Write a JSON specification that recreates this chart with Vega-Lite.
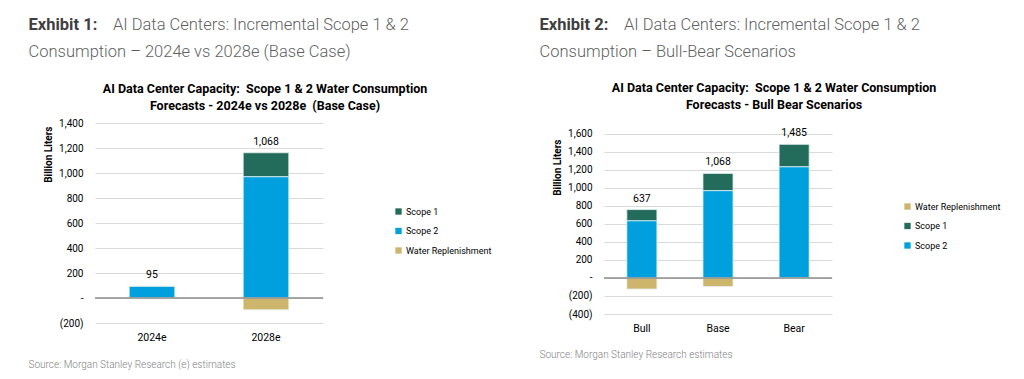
{
  "$schema": "https://vega.github.io/schema/vega-lite/v6.json",
  "background": "white",
  "padding": {"left": 28, "top": 17, "right": 0, "bottom": 0},
  "spacing": 47,
  "datasets": {
    "left": [
      {"cat": "2024e", "series": "Scope 1", "value": 2},
      {"cat": "2024e", "series": "Scope 2", "value": 93},
      {"cat": "2024e", "series": "Water Replenishment", "value": 0},
      {"cat": "2028e", "series": "Scope 1", "value": 192},
      {"cat": "2028e", "series": "Scope 2", "value": 970},
      {"cat": "2028e", "series": "Water Replenishment", "value": -94}
    ],
    "right": [
      {"cat": "Bull", "series": "Scope 1", "value": 125},
      {"cat": "Bull", "series": "Scope 2", "value": 635},
      {"cat": "Bull", "series": "Water Replenishment", "value": -123},
      {"cat": "Base", "series": "Scope 1", "value": 192},
      {"cat": "Base", "series": "Scope 2", "value": 970},
      {"cat": "Base", "series": "Water Replenishment", "value": -94},
      {"cat": "Bear", "series": "Scope 1", "value": 250},
      {"cat": "Bear", "series": "Scope 2", "value": 1235},
      {"cat": "Bear", "series": "Water Replenishment", "value": 0}
    ]
  },
  "resolve": {"scale": {"color": "independent", "y": "independent", "x": "independent"}, "legend": {"color": "independent"}},
  "hconcat": [
    {
      "title": {
        "text": "Exhibit 1:",
        "subtitle": ["\u200b\u00a0\u00a0\u00a0\u00a0\u00a0\u00a0\u00a0\u00a0\u00a0\u00a0\u00a0\u00a0\u00a0\u00a0\u00a0\u00a0\u00a0\u00a0\u00a0\u00a0\u00a0AI Data Centers: Incremental Scope 1 & 2", "Consumption – 2024e vs 2028e (Base Case)"],
        "anchor": "start", "frame": "bounds", "dx": 0, "offset": 22,
        "font": "Roboto", "fontSize": 16.5, "fontWeight": "bold", "color": "#3f3f3f",
        "subtitleFont": "Roboto", "subtitleFontSize": 16.5, "subtitleFontWeight": 300, "subtitleColor": "#5f5f5f",
        "subtitleLineHeight": 27, "subtitlePadding": -16.5
      },
      "vconcat": [
        {
          "title": {"text": "Source: Morgan Stanley Research (e) estimates", "orient": "bottom", "anchor": "start", "frame": "bounds", "dx": -15, "offset": 17, "font": "Roboto", "fontSize": 10, "fontWeight": 300, "color": "#7f7f7f"},
          "vconcat": [
            {
              "width": 228, "height": 200,
              "data": {"name": "left"},
              "title": {"text": ["AI Data Center Capacity:\u00a0 Scope 1 & 2 Water Consumption", "Forecasts - 2024e vs 2028e\u00a0 (Base Case)"], "anchor": "middle", "frame": "group", "dx": 56, "offset": 6, "font": "Roboto", "fontSize": 12.5, "fontWeight": "bold", "color": "#000000", "lineHeight": 17},
              "layer": [
                {
                  "mark": {"type": "bar", "stroke": "#e4f1ef", "strokeWidth": 0.8},
                  "encoding": {
                    "x": {"field": "cat", "type": "nominal", "sort": null, "title": null, "scale": {"paddingInner": 0.6, "paddingOuter": 0.3},
                      "axis": {"domain": false, "ticks": false, "labelAngle": 0, "labelPadding": 9, "labelFont": "Roboto", "labelFontSize": 10.5, "labelColor": "#000000"}},
                    "y": {"field": "value", "type": "quantitative", "stack": "zero", "scale": {"domain": [-200, 1400], "nice": false},
                      "axis": {"values": [-200, 0, 200, 400, 600, 800, 1000, 1200, 1400], "tickCount": 30, "labelOverlap": false, "labelExpr": "datum.value == 0 ? '-' : (datum.value < 0 ? '(' + format(-datum.value, ',') + ')' : format(datum.value, ','))", "title": "Billion Liters", "titleAnchor": "end", "titleY": 3, "titleFont": "Roboto", "titleFontSize": 10, "titleFontWeight": "bold", "titleColor": "#000000", "titlePadding": 5, "domain": false, "ticks": false, "grid": true, "gridColor": "#d9d9d9", "labelPadding": 12, "labelFont": "Roboto", "labelFontSize": 10, "labelColor": "#000000"}},
                    "color": {"field": "series", "type": "nominal", "scale": {"domain": ["Scope 1", "Scope 2", "Water Replenishment"], "range": ["#236B5A", "#00A0DE", "#CDB56B"]},
                      "legend": {"title": null, "orient": "none", "legendX": 299, "legendY": 84, "symbolType": "square", "symbolSize": 40, "symbolStrokeWidth": 0, "labelFont": "Roboto", "labelFontSize": 9, "labelColor": "#000000", "rowPadding": 9.5, "labelOffset": 3}},
                    "order": {"field": "series", "sort": "descending"}
                  }
                },
                {
                  "data": {"values": [{}]},
                  "mark": {"type": "rule", "color": "#8c8c8c", "strokeWidth": 1.5},
                  "encoding": {"y": {"datum": 0}}
                },
                {
                  "transform": [
                    {"calculate": "max(datum.value, 0)", "as": "pos"},
                    {"aggregate": [{"op": "sum", "field": "value", "as": "net"}, {"op": "sum", "field": "pos", "as": "top"}], "groupby": ["cat"]}
                  ],
                  "mark": {"type": "text", "baseline": "bottom", "dy": -6, "font": "Roboto", "fontSize": 10.5, "color": "#000000"},
                  "encoding": {
                    "x": {"field": "cat", "type": "nominal", "sort": null},
                    "y": {"field": "top", "type": "quantitative"},
                    "text": {"field": "net", "type": "quantitative", "format": ","}
                  }
                }
              ]
            }
          ]
        }
      ]
    },
    {
      "title": {
        "text": "Exhibit 2:",
        "subtitle": ["\u200b\u00a0\u00a0\u00a0\u00a0\u00a0\u00a0\u00a0\u00a0\u00a0\u00a0\u00a0\u00a0\u00a0\u00a0\u00a0\u00a0\u00a0\u00a0\u00a0\u00a0\u00a0AI Data Centers: Incremental Scope 1 & 2", "Consumption – Bull-Bear Scenarios"],
        "anchor": "start", "frame": "bounds", "dx": 0, "offset": 21,
        "font": "Roboto", "fontSize": 16.5, "fontWeight": "bold", "color": "#3f3f3f",
        "subtitleFont": "Roboto", "subtitleFontSize": 16.5, "subtitleFontWeight": 300, "subtitleColor": "#5f5f5f",
        "subtitleLineHeight": 27, "subtitlePadding": -16.5
      },
      "vconcat": [
        {
          "title": {"text": "Source: Morgan Stanley Research estimates", "orient": "bottom", "anchor": "start", "frame": "bounds", "dx": -13, "offset": 16, "font": "Roboto", "fontSize": 10, "fontWeight": 300, "color": "#7f7f7f"},
          "vconcat": [
            {
              "width": 228, "height": 191,
              "data": {"name": "right"},
              "title": {"text": ["AI Data Center Capacity:\u00a0 Scope 1 & 2 Water Consumption", "Forecasts - Bull Bear Scenarios"], "anchor": "middle", "frame": "group", "dx": 56, "offset": 12, "font": "Roboto", "fontSize": 12.5, "fontWeight": "bold", "color": "#000000", "lineHeight": 17},
              "layer": [
                {
                  "mark": {"type": "bar", "stroke": "#e4f1ef", "strokeWidth": 0.8},
                  "encoding": {
                    "x": {"field": "cat", "type": "nominal", "sort": null, "title": null, "scale": {"paddingInner": 0.605, "paddingOuter": 0.3},
                      "axis": {"domain": false, "ticks": false, "labelAngle": 0, "labelPadding": 9, "labelFont": "Roboto", "labelFontSize": 10.5, "labelColor": "#000000"}},
                    "y": {"field": "value", "type": "quantitative", "stack": "zero", "scale": {"domain": [-400, 1722], "nice": false},
                      "axis": {"values": [-400, -200, 0, 200, 400, 600, 800, 1000, 1200, 1400, 1600], "tickCount": 30, "labelOverlap": false, "labelExpr": "datum.value == 0 ? '-' : (datum.value < 0 ? '(' + format(-datum.value, ',') + ')' : format(datum.value, ','))", "title": "Billion Liters", "titleAnchor": "end", "titleY": 16, "titleFont": "Roboto", "titleFontSize": 10, "titleFontWeight": "bold", "titleColor": "#000000", "titlePadding": 5, "domain": false, "ticks": false, "grid": true, "gridColor": "#d9d9d9", "labelPadding": 12, "labelFont": "Roboto", "labelFontSize": 10, "labelColor": "#000000"}},
                    "color": {"field": "series", "type": "nominal", "scale": {"domain": ["Water Replenishment", "Scope 1", "Scope 2"], "range": ["#CDB56B", "#236B5A", "#00A0DE"]},
                      "legend": {"title": null, "orient": "none", "legendX": 299, "legendY": 79, "symbolType": "square", "symbolSize": 40, "symbolStrokeWidth": 0, "labelFont": "Roboto", "labelFontSize": 9, "labelColor": "#000000", "rowPadding": 9.5, "labelOffset": 3}},
                    "order": {"field": "series", "sort": "descending"}
                  }
                },
                {
                  "data": {"values": [{}]},
                  "mark": {"type": "rule", "color": "#8c8c8c", "strokeWidth": 1.5},
                  "encoding": {"y": {"datum": 0}}
                },
                {
                  "transform": [
                    {"calculate": "max(datum.value, 0)", "as": "pos"},
                    {"aggregate": [{"op": "sum", "field": "value", "as": "net"}, {"op": "sum", "field": "pos", "as": "top"}], "groupby": ["cat"]}
                  ],
                  "mark": {"type": "text", "baseline": "bottom", "dy": -6, "font": "Roboto", "fontSize": 10.5, "color": "#000000"},
                  "encoding": {
                    "x": {"field": "cat", "type": "nominal", "sort": null},
                    "y": {"field": "top", "type": "quantitative"},
                    "text": {"field": "net", "type": "quantitative", "format": ","}
                  }
                }
              ]
            }
          ]
        }
      ]
    }
  ],
  "config": {
    "view": {"stroke": null}
  }
}
